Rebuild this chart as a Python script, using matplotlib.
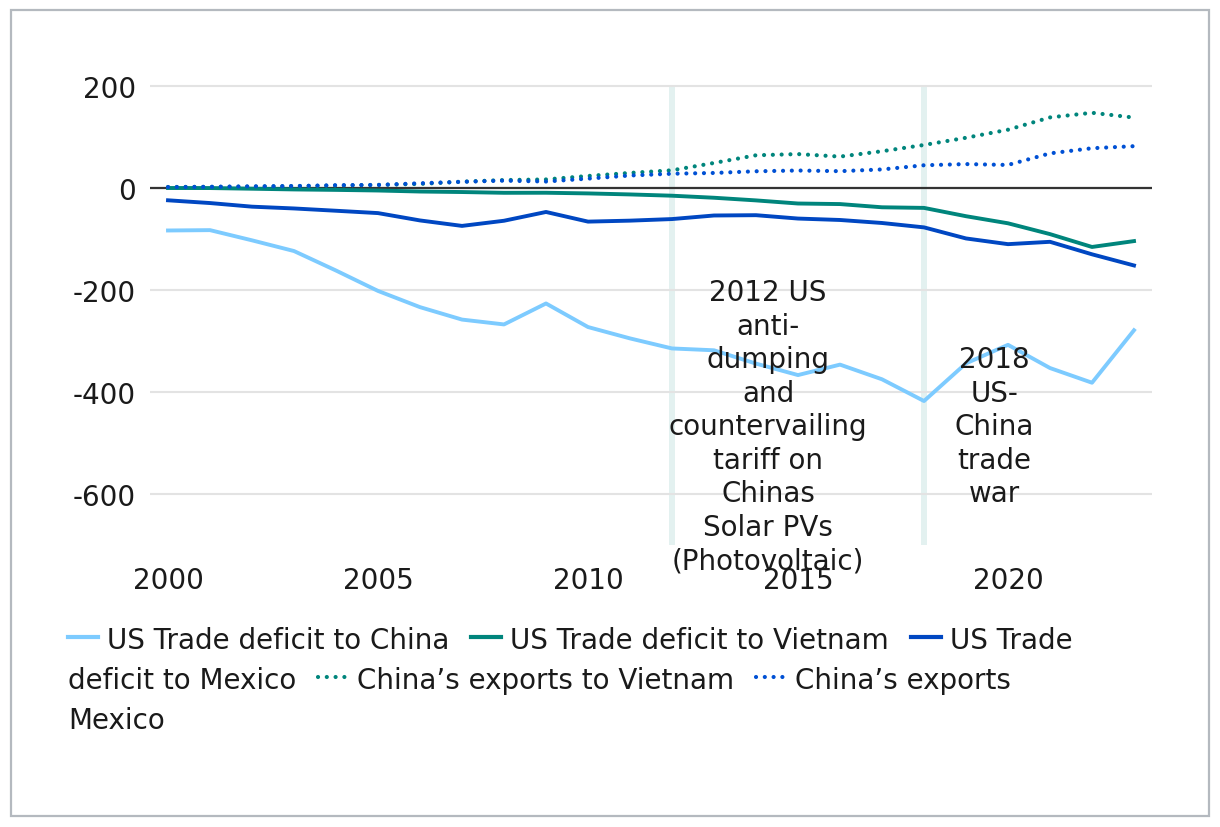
import numpy as np
import matplotlib
matplotlib.use('Agg')
import matplotlib.pyplot as plt
from matplotlib.lines import Line2D
from matplotlib.patches import Rectangle

# data (billions USD)
years = list(range(2000, 2024))
us_china = [-83.8, -83.1, -103.1, -124.1, -162.3, -202.3, -234.1, -258.5, -268.0, -226.9,
            -273.1, -295.4, -315.1, -318.7, -344.8, -367.3, -346.8, -375.6, -418.2, -344.3,
            -308.0, -353.5, -382.3, -279.4]
us_vietnam = [-0.5, -0.6, -1.9, -3.3, -4.2, -5.4, -7.4, -8.4, -9.9, -9.8,
              -11.1, -13.1, -15.6, -19.6, -24.8, -30.9, -32.0, -38.3, -39.5, -55.8,
              -69.7, -90.9, -116.1, -104.6]
us_mexico = [-24.6, -30.0, -37.1, -40.6, -45.1, -49.7, -64.1, -74.8, -64.7, -47.5,
             -66.4, -64.5, -61.4, -54.4, -53.8, -60.4, -63.2, -69.1, -77.7, -99.4,
             -110.6, -106.0, -130.5, -152.4]
cn_vietnam = [1.5, 1.8, 2.1, 3.2, 4.3, 5.6, 7.5, 11.9, 15.1, 16.3,
              23.1, 29.1, 34.2, 48.6, 63.7, 66.0, 61.1, 71.6, 83.9, 98.0,
              113.8, 137.9, 147.0, 137.6]
cn_mexico = [1.3, 1.8, 2.8, 3.3, 5.0, 5.5, 8.8, 11.7, 13.9, 12.2,
             17.9, 24.0, 27.5, 29.0, 32.3, 33.8, 32.5, 35.9, 44.1, 46.4,
             44.7, 67.4, 77.5, 81.5]

event_years = [2012, 2018]
event_texts = ["2012 US\nanti-\ndumping\nand\ncountervailing\ntariff on\nChinas\nSolar PVs\n(Photovoltaic)",
               "2018\nUS-\nChina\ntrade\nwar"]
event_text_x = [2014.29, 2019.67]

labels = ["US Trade deficit to China", "US Trade deficit to Vietnam", "US Trade deficit to Mexico",
          "China\u2019s exports to Vietnam", "China\u2019s exports Mexico"]

LIGHT = '#7DCBFF'
TEAL = '#00857C'
BLUE = '#0047C2'
DOTBLUE = '#0050D4'
FS = 20
plt.rcParams['font.family'] = ['DejaVu Sans']
plt.rcParams['axes.unicode_minus'] = False

fig = plt.figure(figsize=(12.2, 8.28), dpi=100, facecolor='white')
W, H = 1220, 828
ax = fig.add_axes([150 / W, 1 - 545.75 / H, 1002 / W, 510 / H])

ax.bar(event_years, 900, bottom=-700, width=0.13, color='#E3F1F0', zorder=0.3)

dots = dict(linewidth=3.0, dashes=(0.01, 2.1), dash_capstyle='round')
ax.plot(years, us_china, color=LIGHT, lw=2.8, zorder=3)
ax.plot(years, us_vietnam, color=TEAL, lw=2.8, zorder=3)
ax.plot(years, us_mexico, color=BLUE, lw=2.8, zorder=3)
ax.plot(years, cn_vietnam, color=TEAL, zorder=3, **dots)
ax.plot(years, cn_mexico, color=DOTBLUE, zorder=3, **dots)
ax.axhline(0, color='#333333', lw=1.6, zorder=2)

for tx, txt in zip(event_text_x, event_texts):
    ax.text(tx, -468, txt, ha='center', va='center', fontsize=FS, color='#1a1a1a',
            linespacing=1.25, zorder=5)

ax.set_xlim(2000 - 18 / 42, 2023 + 18 / 42)
ax.set_ylim(-700, 300)
ax.set_yticks([-600, -400, -200, 0, 200])
ax.set_xticks([2000, 2005, 2010, 2015, 2020])
ax.grid(axis='y', color='#E3E3E3', lw=1.5)
ax.set_axisbelow(True)
ax.tick_params(length=0, labelsize=FS, labelcolor='#1a1a1a')
ax.tick_params(axis='y', pad=10)
ax.tick_params(axis='x', pad=15)
for s in ax.spines.values():
    s.set_visible(False)

# outer frame
fig.patches.append(Rectangle((11 / W, 1 - 817 / H), 1198 / W, 806 / H, transform=fig.transFigure,
                             fill=False, edgecolor='#B4B9BF', lw=1.6))

# flowing legend, wrapped like the original
renderer = fig.canvas.get_renderer()
styles = [dict(color=LIGHT), dict(color=TEAL), dict(color=BLUE),
          dict(color=TEAL, linestyle=(0, (0.01, 2.1)), dash_capstyle='round'),
          dict(color=DOTBLUE, linestyle=(0, (0.01, 2.1)), dash_capstyle='round')]
rows = [[(0, labels[0]), (1, labels[1]), (2, "US Trade")],
        [(None, "deficit to Mexico"), (3, labels[3]), (4, "China\u2019s exports")],
        [(None, "Mexico")]]
row_y = [638, 678, 718]
for row, yy in zip(rows, row_y):
    x = 68
    for idx, txt in row:
        if idx is not None:
            fig.add_artist(Line2D([x / W, (x + 30) / W], [1 - yy / H] * 2, transform=fig.transFigure,
                                  lw=3.0, **styles[idx]))
            x += 39
        t = fig.text(x / W, 1 - yy / H, txt, fontsize=FS, color='#1a1a1a', ha='left', va='center_baseline')
        x += t.get_window_extent(renderer).width + 22

fig.savefig('out.png', dpi=100, facecolor='white')
